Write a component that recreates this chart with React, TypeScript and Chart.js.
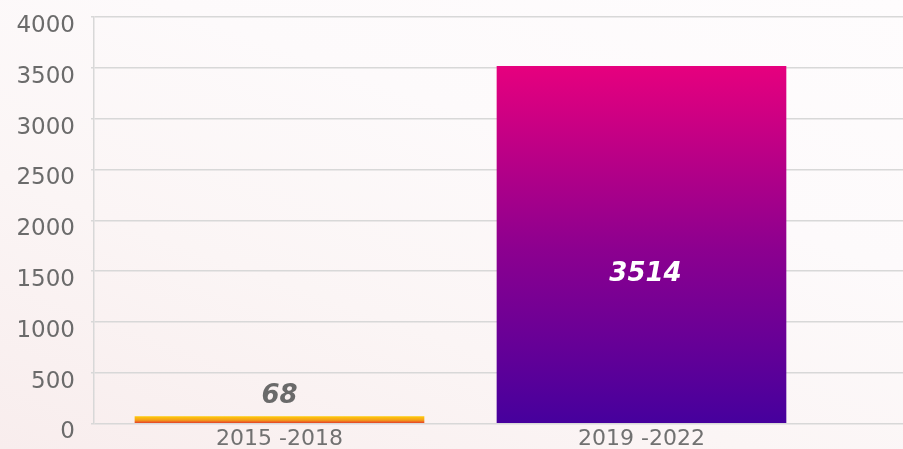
import React, { useEffect, useRef } from "react";
import { Chart, registerables } from "chart.js";

Chart.register(...registerables);

const categories = ["2015 -2018", "2019 -2022"];
const values = [68, 3514];
const yTicks = [0, 500, 1000, 1500, 2000, 2500, 3000, 3500, 4000];
// gradient stops, bottom -> top
const barGradients = [
  ["#e2302c", "#f5a019", "#fdc80c"],
  ["#46009d", "#8e008f", "#e6007e"],
];

const W = 903;
const H = 449;
const FONT = "'DejaVu Sans', sans-serif";

const labelPlugin = {
  id: "valueLabels",
  afterDatasetsDraw(chart: any) {
    const ctx = chart.ctx;
    const meta = chart.getDatasetMeta(0);
    meta.data.forEach((bar: any, i: number) => {
      const h = bar.base - bar.y;
      ctx.save();
      ctx.font = `italic bold 26px ${FONT}`;
      ctx.textAlign = "center";
      ctx.textBaseline = "middle";
      if (h < 40) {
        ctx.fillStyle = "#6a6a6a";
        ctx.fillText(String(values[i]), bar.x, bar.y - 20);
      } else {
        ctx.fillStyle = "#ffffff";
        ctx.fillText(String(values[i]), bar.x + 4, bar.base - 0.418 * h);
      }
      ctx.restore();
    });
  },
};

export default function App() {
  const ref = useRef<HTMLCanvasElement | null>(null);

  useEffect(() => {
    if (!ref.current) return;
    const chart = new Chart(ref.current, {
      type: "bar",
      data: {
        datasets: [
          {
            data: values.map((v, i) => ({ x: i, y: v })),
            barThickness: 289,
            borderWidth: 0,
            backgroundColor: (c: any) => {
              const chart = c.chart;
              const stops = barGradients[c.dataIndex % barGradients.length];
              if (!chart.chartArea || !chart.scales.y) return stops[1];
              const ys = chart.scales.y;
              const top = ys.getPixelForValue(values[c.dataIndex]);
              const bot = ys.getPixelForValue(0);
              if (!isFinite(top) || !isFinite(bot) || top === bot) return stops[1];
              const g = chart.ctx.createLinearGradient(0, bot, 0, top);
              g.addColorStop(0, stops[0]);
              g.addColorStop(0.5, stops[1]);
              g.addColorStop(1, stops[2]);
              return g;
            },
          } as any,
        ],
      },
      options: {
        animation: false,
        responsive: false,
        devicePixelRatio: 1,
        layout: { padding: { top: 17, right: 0, left: 0, bottom: 0 } },
        plugins: {
          legend: { display: false },
          tooltip: { enabled: false },
        },
        scales: {
          x: {
            type: "linear",
            offset: false,
            min: -0.5124,
            max: 1.7224,
            grid: { display: false, drawTicks: false, offset: false },
            border: { display: false },
            ticks: {
              stepSize: 1,
              includeBounds: false,
              padding: 3,
              color: "#717171",
              font: { family: FONT, size: 22 },
              maxRotation: 0,
              autoSkip: false,
              callback: (v: any) => categories[v] ?? "",
            },
            afterFit: (s: any) => {
              s.height = H - 423.5;
              s.paddingLeft = 0;
              s.paddingRight = 0;
            },
          } as any,
          y: {
            min: 0,
            max: 4000,
            afterBuildTicks: (s: any) => {
              s.ticks = yTicks.map((v) => ({ value: v }));
            },
            grid: { color: "#d8d8d8", lineWidth: 1.5, tickLength: 3 },
            border: { color: "#d8d8d8", width: 1.5 },
            ticks: {
              padding: 16,
              labelOffset: 9,
              color: "#6b6b6b",
              font: { family: FONT, size: 23 },
              callback: (v: any) => String(v),
            },
            afterFit: (s: any) => {
              s.width = 94;
              s.paddingTop = 0;
              s.paddingBottom = 0;
            },
          } as any,
        },
      },
      plugins: [labelPlugin],
    });
    return () => chart.destroy();
  }, []);

  return (
    <div
      style={{
        position: "fixed",
        left: 0,
        top: 0,
        width: W,
        height: H,
        overflow: "hidden",
        background:
          "linear-gradient(20deg, #f8eded 0%, #fbf5f5 35%, #fdfafb 65%, #fefcfd 100%)",
      }}
    >
      <canvas ref={ref} width={W} height={H} style={{ display: "block", width: W, height: H }} />
    </div>
  );
}
